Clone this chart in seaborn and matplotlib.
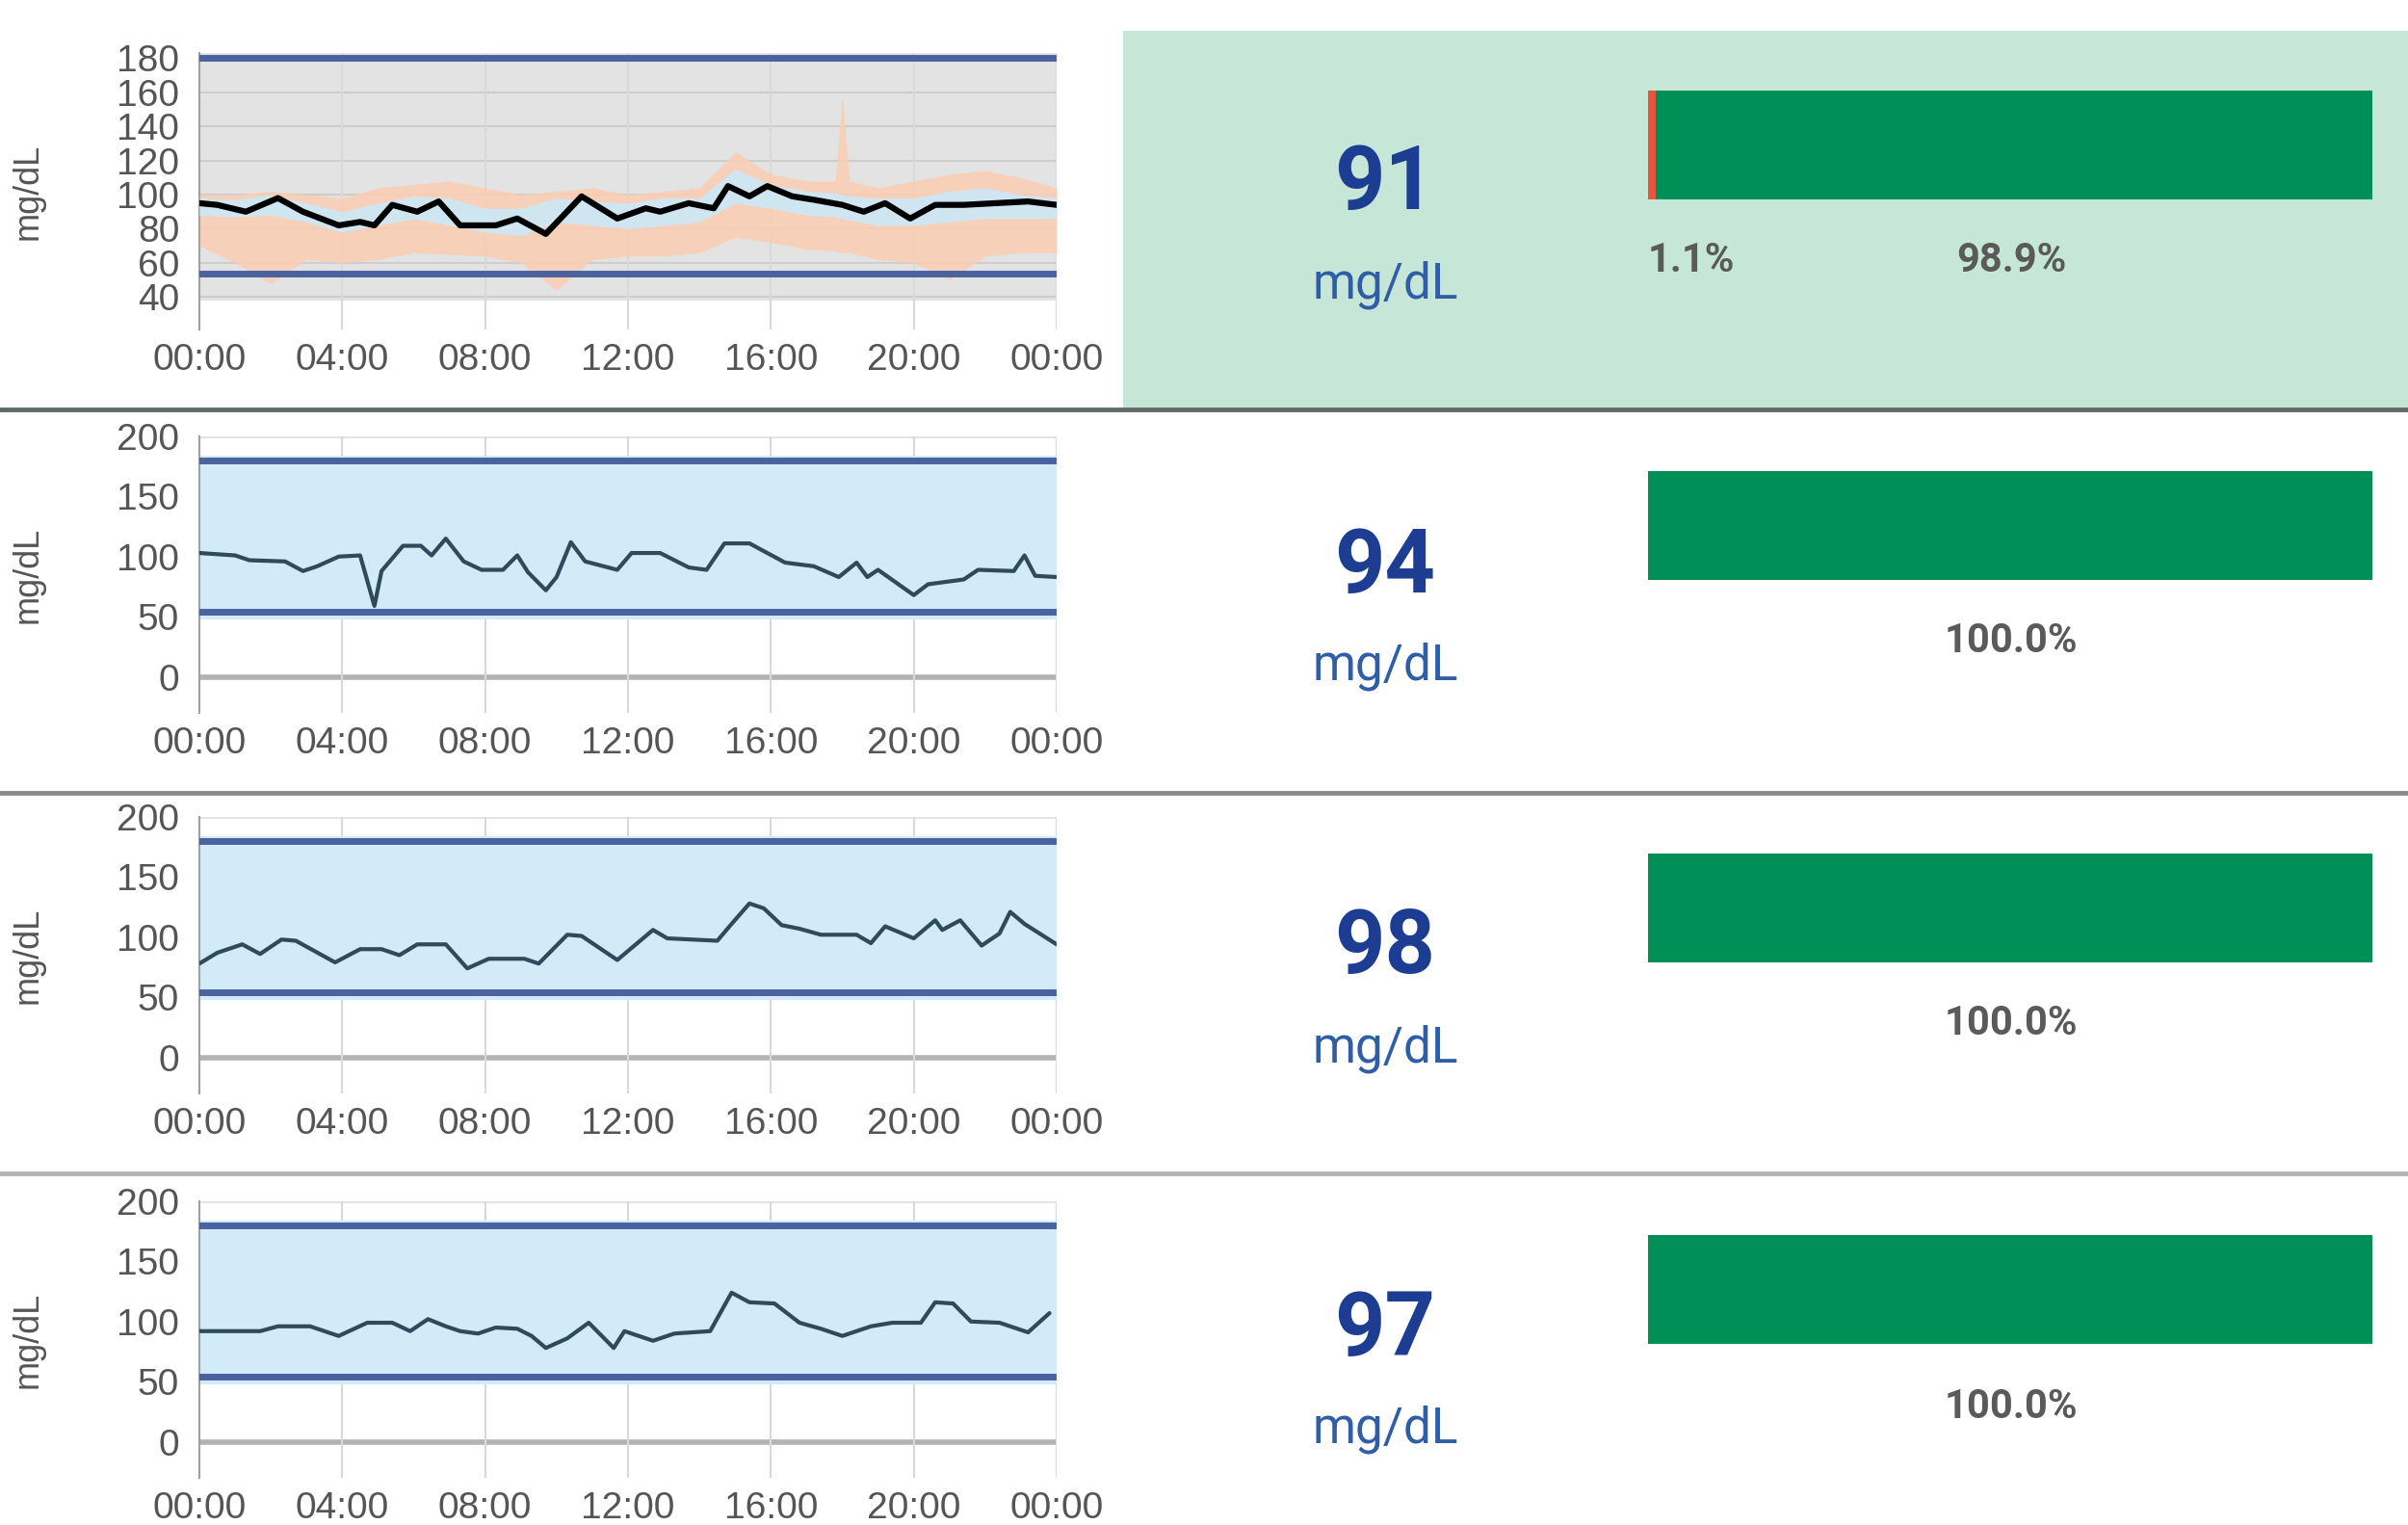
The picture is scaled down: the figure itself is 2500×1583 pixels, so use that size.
import numpy as np
import matplotlib
matplotlib.use('Agg')
import matplotlib.pyplot as plt
import seaborn as sns
from matplotlib.patches import Rectangle
from matplotlib.lines import Line2D

# Data
TIME_TICKS = [0, 4, 8, 12, 16, 20, 24]
TIME_LABELS = ['00:00', '04:00', '08:00', '12:00', '16:00', '20:00', '00:00']
TARGET_LOW = 54
TARGET_HIGH = 180

# Day 1: ambulatory profile (median + percentile bands)
day1_hours = [0, 0.5, 1.3, 2.2, 2.9, 3.9, 4.5, 4.9, 5.4, 6.1, 6.7, 7.3, 8.3, 8.9, 9.7,
              10.7, 11.7, 12.5, 12.9, 13.7, 14.4, 14.8, 15.4, 15.9, 16.6, 17.2, 18.0,
              18.6, 19.2, 19.9, 20.6, 21.4, 22.3, 23.2, 24]
day1_median = [95, 94, 90, 98, 90, 82, 84, 82, 94, 90, 96, 82, 82, 86, 77,
               99, 86, 92, 90, 95, 92, 105, 99, 105, 99, 97, 94,
               90, 95, 86, 94, 94, 95, 96, 94]
band_hours = [0, 1, 2, 3, 4, 5, 6, 7, 8, 9, 10, 11, 12, 13, 14, 15, 16, 17,
              17.8, 18.0, 18.2, 19, 20, 21, 22, 23, 24]
day1_p90 = [100, 100, 102, 100, 98, 104, 106, 108, 104, 100, 102, 104, 100, 102, 104, 125, 112, 108,
            108, 158, 108, 104, 108, 112, 114, 110, 104]
day1_p75 = [98, 97, 100, 95, 90, 95, 99, 98, 92, 92, 98, 96, 95, 98, 98, 115, 106, 102,
            101, 100, 99, 98, 98, 102, 104, 100, 98]
day1_p25 = [88, 87, 88, 84, 78, 82, 86, 82, 78, 76, 84, 82, 80, 82, 84, 95, 92, 88,
            87, 86, 85, 82, 82, 84, 86, 86, 86]
day1_p10 = [70, 60, 48, 62, 60, 62, 66, 65, 64, 60, 44, 62, 64, 64, 66, 75, 72, 68,
            67, 66, 66, 62, 60, 50, 64, 66, 66]

# Days 2-4: single glucose traces
day2_hours = [0, 1.0, 1.4, 2.4, 2.9, 3.3, 3.9, 4.5, 4.9, 5.1, 5.7, 6.2, 6.5, 6.9, 7.4, 7.9,
              8.5, 8.9, 9.2, 9.7, 10.0, 10.4, 10.8, 11.7, 12.1, 12.9, 13.7, 14.2, 14.7,
              15.4, 16.4, 17.2, 17.9, 18.4, 18.7, 19.0, 20.0, 20.4, 21.4, 21.8, 22.8,
              23.1, 23.4, 24]
day2_glucose = [103, 101, 97, 96, 88, 92, 100, 101, 59, 88, 109, 109, 101, 115, 96, 89,
                89, 101, 87, 72, 83, 112, 96, 89, 103, 103, 91, 89, 111,
                111, 95, 92, 83, 95, 83, 89, 68, 77, 81, 89, 88,
                101, 84, 83]
day3_hours = [0, 0.5, 1.2, 1.7, 2.3, 2.7, 3.8, 4.5, 5.1, 5.6, 6.1, 6.9, 7.5, 8.1, 8.5,
              9.1, 9.5, 10.3, 10.7, 11.7, 12.7, 13.1, 14.5, 14.9, 15.4, 15.8, 16.3,
              16.8, 17.4, 18.4, 18.8, 19.2, 20.0, 20.6, 20.8, 21.3, 21.9, 22.4, 22.7,
              23.1, 24]
day3_glucose = [78, 87, 94, 86, 98, 97, 79, 90, 90, 85, 94, 94, 74, 82, 82,
                82, 78, 102, 101, 81, 106, 99, 97, 111, 128, 124, 110,
                107, 102, 102, 95, 109, 99, 114, 106, 114, 93, 103, 121,
                111, 94]
day4_hours = [0, 1.0, 1.7, 2.2, 3.1, 3.9, 4.7, 5.4, 5.9, 6.4, 6.9, 7.3, 7.8, 8.3, 8.9,
              9.3, 9.7, 10.3, 10.9, 11.6, 11.9, 12.7, 13.3, 14.3, 14.9, 15.4, 16.1,
              16.8, 17.4, 18.0, 18.8, 19.4, 20.2, 20.6, 21.1, 21.6, 22.4, 23.2, 23.8]
day4_glucose = [92, 92, 92, 96, 96, 88, 99, 99, 92, 102, 96, 92, 90, 95, 94,
                88, 78, 86, 99, 78, 92, 84, 90, 92, 124, 116, 115,
                99, 94, 88, 96, 99, 99, 116, 115, 100, 99, 91, 107]

mean_glucose = [91, 94, 98, 97]
pct_low = [1.1, 0.0, 0.0, 0.0]
pct_in_range = [98.9, 100.0, 100.0, 100.0]

# Colours
C_TARGET = '#4a62a0'
C_BAND = '#d3eaf8'
C_TRACE = '#2e4a5c'
C_GRID = '#d9d9d9'
C_TICK = '#555555'
C_GREEN = '#008f56'
C_RED = '#e8553d'
C_NUM = '#1d3d92'
C_UNIT = '#2f5ea6'

W, H = 2500, 1583
ROW_TOPS = [55, 453, 848, 1247]
AX_H = 287
AX_X0, AX_X1 = 207, 1097


def fig_box(x0, y_top, width, height):
    """Pixel box (top-left origin) -> figure fraction rect."""
    return [x0 / W, 1 - (y_top + height) / H, width / W, height / H]


def style_time_axis(ax, yticks, ylim):
    ax.set_xlim(0, 24)
    ax.set_ylim(*ylim)
    ax.set_xticks(TIME_TICKS)
    ax.set_xticklabels(TIME_LABELS)
    ax.set_yticks(yticks)
    ax.set_yticklabels([str(v) for v in yticks])
    for side in ['top', 'right', 'bottom']:
        ax.spines[side].set_visible(False)
    ax.spines['left'].set_color('#a0a0a0')
    ax.spines['left'].set_linewidth(1.5)
    ax.tick_params(axis='x', length=0, pad=10, labelsize=28, labelcolor=C_TICK)
    ax.tick_params(axis='y', length=12, width=1.2, color='#cfcfcf', pad=3, labelsize=28, labelcolor=C_TICK)
    for t in TIME_TICKS:
        ax.axvline(t, color=C_GRID, lw=1.5, zorder=1)
    ax.set_xlabel('')
    ax.set_ylabel('mg/dL', fontsize=26, color=C_TICK, labelpad=10)
    ax.yaxis.set_label_coords(-0.18, 0.5)


sns.set_style('white')
plt.rcParams['font.family'] = ['Liberation Sans', 'DejaVu Sans']

fig = plt.figure(figsize=(W / 100, H / 100), dpi=100)

# Highlighted summary background for the first row
fig.add_artist(Rectangle((1166 / W, 1 - 425 / H), (W - 1166) / W, (425 - 32) / H,
                         transform=fig.transFigure, facecolor='#c6e7d7', edgecolor='none', zorder=-5))

# Row separators
for y, c in zip([425, 823, 1218], ['#5f6a66', '#8a8a8a', '#b5b5b5']):
    fig.add_artist(Line2D([0, 1], [1 - y / H, 1 - y / H], transform=fig.transFigure,
                          color=c, lw=3.5, zorder=-4))

# Row 1: percentile profile
ax = fig.add_axes(fig_box(AX_X0, ROW_TOPS[0], AX_X1 - AX_X0, AX_H))
ax.set_facecolor('none')
ax.axhspan(38, 183, color='#e3e3e3', lw=0, zorder=0)
for v in range(40, 181, 20):
    ax.axhline(v, color='#cdcdcd', lw=1.5, zorder=0.5)
ax.fill_between(band_hours, day1_p10, day1_p90, color='#fbcdb3', alpha=0.85, lw=0, zorder=2)
ax.fill_between(band_hours, day1_p25, day1_p75, color='#cde8f5', alpha=0.95, lw=0, zorder=3)
ax.axhline(TARGET_HIGH, color=C_TARGET, lw=5, zorder=4)
ax.axhline(TARGET_LOW, color=C_TARGET, lw=5, zorder=4)
sns.lineplot(x=day1_hours, y=day1_median, ax=ax, color='black', lw=4.5, zorder=5)
style_time_axis(ax, list(range(40, 181, 20)), (21, 183))

# Rows 2-4: daily traces
for i, (hrs, vals) in enumerate([(day2_hours, day2_glucose),
                                 (day3_hours, day3_glucose),
                                 (day4_hours, day4_glucose)], start=1):
    ax = fig.add_axes(fig_box(AX_X0, ROW_TOPS[i], AX_X1 - AX_X0, AX_H))
    ax.set_facecolor('none')
    ax.axhline(200, color='#e4e4e4', lw=3, zorder=0.5)
    ax.axhline(0, color='#b3b3b3', lw=4, zorder=0.5)
    ax.axhspan(TARGET_LOW - 6, TARGET_HIGH + 4, color=C_BAND, lw=0, zorder=2)
    ax.axhline(TARGET_HIGH, color=C_TARGET, lw=5, zorder=3)
    ax.axhline(TARGET_LOW, color=C_TARGET, lw=5, zorder=3)
    sns.lineplot(x=hrs, y=vals, ax=ax, color=C_TRACE, lw=3, zorder=4)
    style_time_axis(ax, [0, 50, 100, 150, 200], (-30, 200))

# Summary column: mean glucose and time-in-range bars
bar_tops = [94, 489, 886, 1282]
num_y = [191, 590, 985, 1381]
unit_y = [296, 692, 1089, 1484]
pct_y = [271, 666, 1063, 1460]
for i in range(4):
    fig.text(1438 / W, 1 - num_y[i] / H, str(mean_glucose[i]), ha='center', va='center',
             fontsize=66, fontweight='bold', color=C_NUM, family=['Roboto', 'DejaVu Sans'])
    fig.text(1438 / W, 1 - unit_y[i] / H, 'mg/dL', ha='center', va='center',
             fontsize=37, color=C_UNIT, family=['Roboto', 'DejaVu Sans'])

    bax = fig.add_axes(fig_box(1711, bar_tops[i], 752, 113))
    bax.barh([0], [pct_in_range[i]], left=[pct_low[i]], height=1.0, color=C_GREEN, edgecolor='none')
    if pct_low[i] > 0:
        bax.barh([0], [pct_low[i]], left=[0], height=1.0, color=C_RED, edgecolor='none')
    bax.set_xlim(0, 100)
    bax.set_ylim(-0.5, 0.5)
    bax.axis('off')

    if pct_low[i] > 0:
        fig.text(1711 / W, 1 - pct_y[i] / H, '{:.1f}%'.format(pct_low[i]), ha='left', va='center',
                 fontsize=30, fontweight='bold', color='#5a5a5a', family=['Roboto', 'DejaVu Sans'])
    fig.text(2088 / W, 1 - pct_y[i] / H, '{:.1f}%'.format(pct_in_range[i]), ha='center', va='center',
             fontsize=30, fontweight='bold', color='#5a5a5a', family=['Roboto', 'DejaVu Sans'])

fig.savefig('out.png', dpi=100)
